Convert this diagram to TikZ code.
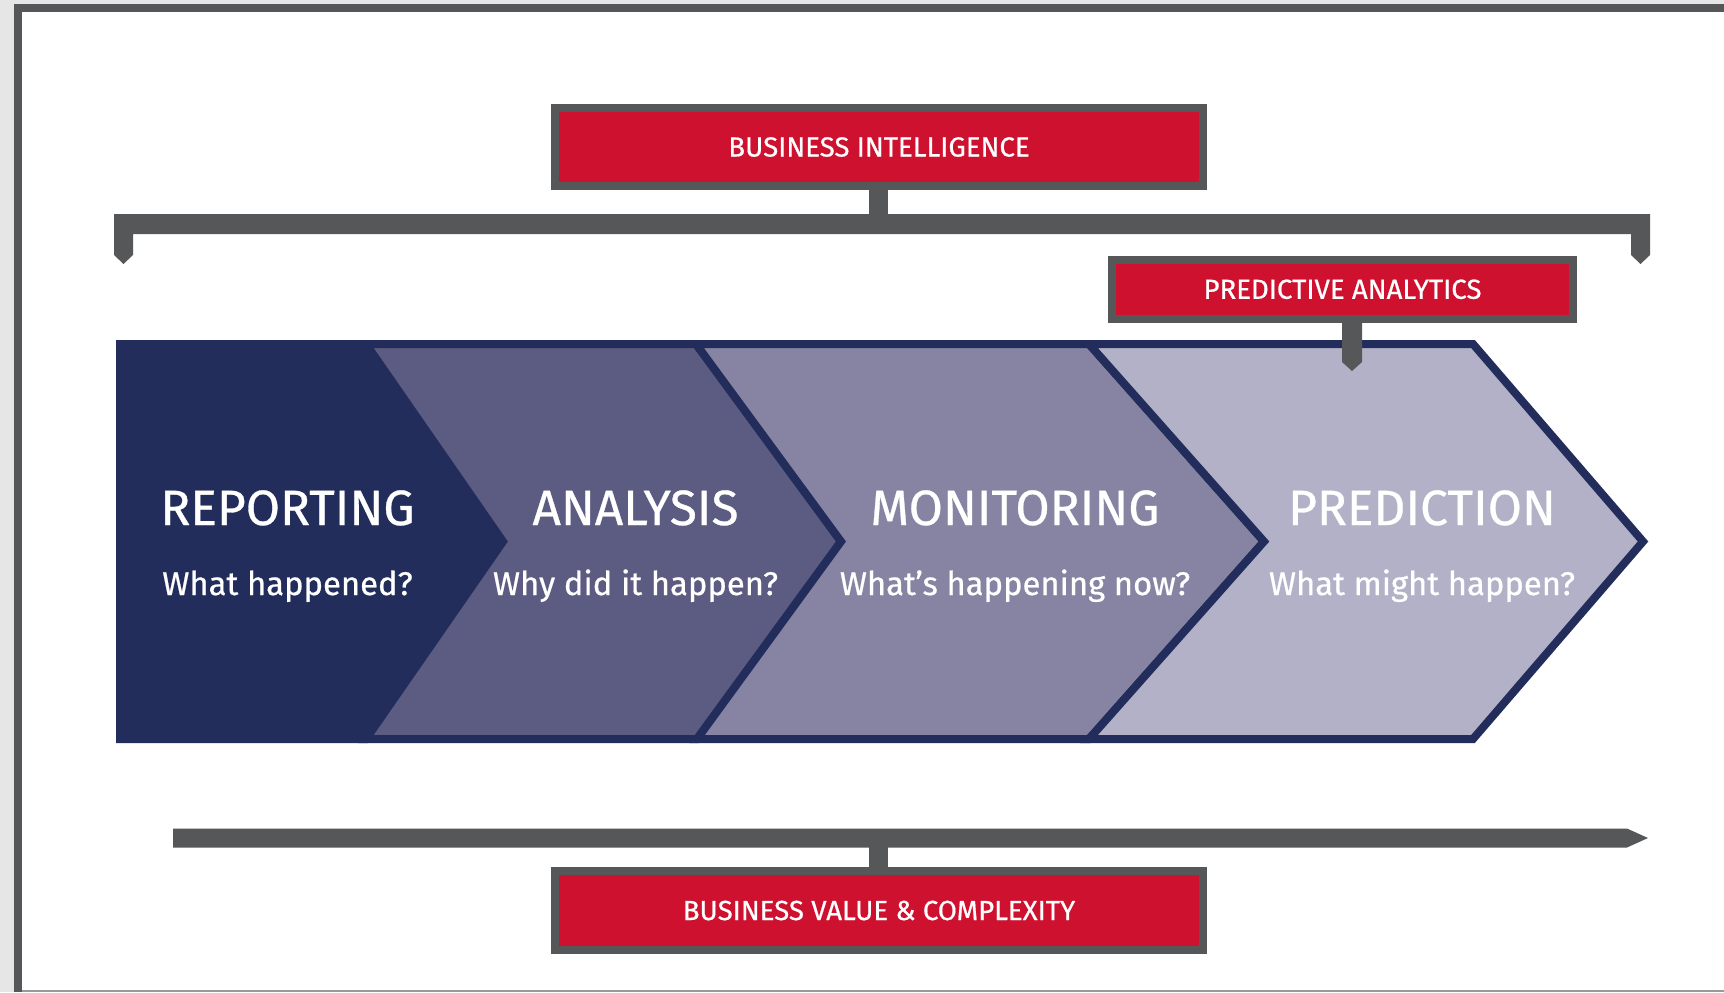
\documentclass[tikz,border=0pt]{standalone}
\usepackage{fontspec}
\setmainfont{Fira Sans}[FakeBold=0.6]
\usetikzlibrary{calc}
\definecolor{navy}{HTML}{232D5C}
\definecolor{cana}{HTML}{5C5B82}
\definecolor{cmon}{HTML}{8784A3}
\definecolor{cpre}{HTML}{B3B1C8}
\definecolor{bired}{HTML}{CF1130}
\definecolor{darkg}{HTML}{555759}
\definecolor{bgg}{HTML}{E6E6E6}
\begin{document}
\begin{tikzpicture}[x=0.5pt,y=-0.5pt,
  redbox/.style={fill=bired, draw=darkg, line width=4pt, text=white, inner sep=0pt,
    font=\fontsize{13.8}{15}\selectfont},
  piece/.style={draw=navy, line width=4pt, line join=miter},
  ttl/.style={text=white, inner sep=0pt, anchor=base, font=\fontsize{24.8}{28}\selectfont},
  sub/.style={text=white, inner sep=0pt, anchor=base, font=\fontsize{16.4}{20}\selectfont},
  stemline/.style={draw=darkg, line width=9.5pt}]
\useasboundingbox (0,0) rectangle (1724,992);
% background frame
\fill[bgg] (0,0) rectangle (1724,992);
\fill[darkg] (14,4) rectangle (1724,992);
\fill[white] (21.5,11.5) rectangle (1724,990);
\fill[gray!80] (21.5,990) rectangle (1724,992);
% chevrons
\filldraw[piece, fill=navy] (120,344) -- (366,344) -- (503,541.5) -- (366,739) -- (120,739) -- cycle;
\filldraw[piece, fill=cana] (366,344) -- (696,344) -- (841,541.5) -- (697,739) -- (366,739) -- (503,541.5) -- cycle;
\filldraw[piece, fill=cmon] (696,344) -- (1089,344) -- (1264,541.5) -- (1089,739) -- (697,739) -- (841,541.5) -- cycle;
\filldraw[piece, fill=cpre] (1089,344) -- (1473,344) -- (1643,541.5) -- (1473,739) -- (1089,739) -- (1264,541.5) -- cycle;
% chevron texts
\node[ttl] (rep) at (287.5,525) {REPORTING};
\node[sub] (repq) at (287.5,595) {What happened?};
\node[ttl] (ana) at (635.5,525) {ANALYSIS};
\node[sub] (anaq) at (635.5,595) {Why did it happen?};
\node[ttl] (mon) at (1015,525) {MONITORING};
\node[sub] (monq) at (1015,595) {What’s happening now?};
\node[ttl] (pre) at (1422,525) {PREDICTION};
\node[sub] (preq) at (1422,595) {What might happen?};
% top bracket
\fill[darkg] (114,214) -- (1650,214) -- (1650,255) -- (1640.5,264) -- (1631,255) -- (1631,234)
  -- (133,234) -- (133,255) -- (123.5,264) -- (114,255) -- cycle;
\coordinate (tb) at (878,224);
% business intelligence
\node[redbox, minimum width=324pt, minimum height=39pt] (bi) at (879,147) {BUSINESS INTELLIGENCE};
\draw[stemline] (bi.south -| tb) -- (tb);
% predictive analytics
\node[redbox, minimum width=230.5pt, minimum height=29.3pt] (pa) at (1342.5,289.3) {PREDICTIVE ANALYTICS};
\coordinate (pat) at (1352,371);
\fill[darkg] ($(pat)+(-10,-53)$) -- ($(pat)+(10,-53)$) -- ($(pat)+(10,-9)$) -- (pat) -- ($(pat)+(-10,-9)$) -- cycle;
% bottom arrow
\fill[darkg] (173,828.5) -- (1627,828.5) -- (1648,838) -- (1627,847.5) -- (173,847.5) -- cycle;
\coordinate (bb) at (878,838);
\node[redbox, minimum width=324pt, minimum height=39.5pt] (bvc) at (879,910.5) {BUSINESS VALUE \& COMPLEXITY};
\draw[stemline] (bvc.north -| bb) -- (bb);
\end{tikzpicture}
\end{document}
